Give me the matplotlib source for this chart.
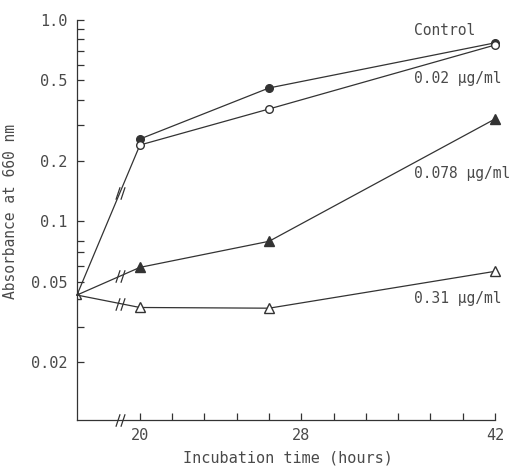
import numpy as np
import matplotlib
matplotlib.use("Agg")
import matplotlib.pyplot as plt
from matplotlib.path import Path

# data (hours, absorbance at 660 nm)
times = [0, 20, 28, 42]
control = [0.043, 0.256, 0.459, 0.769]
conc_002 = [0.043, 0.239, 0.361, 0.750]
conc_0078 = [0.043, 0.059, 0.0795, 0.322]
conc_031 = [0.043, 0.0373, 0.0370, 0.0564]

labels = ["Control", "0.02 \u00b5g/ml", "0.078 \u00b5g/ml", "0.31 \u00b5g/ml"]

x_left = 16.1     # where time 0 sits, left of the axis break
x_break = 18.76   # position of the // break marks

plt.rcParams['font.family'] = ['DejaVu Sans Mono']
txt = '#4a4a4a'
lc = '#333333'

def xpos(t):
    return [x_left if v == 0 else v for v in t]

slash = Path([(-2.2, -3), (-0.2, 3), (0.2, -3), (2.2, 3)],
             [Path.MOVETO, Path.LINETO, Path.MOVETO, Path.LINETO])

fig = plt.figure(figsize=(5.13, 4.73), dpi=100)
ax = fig.add_axes([0.150, 0.112, 0.815, 0.846])
xs = xpos(times)

# control starts at 20 h (shares the 0 h segment with 0.02)
ax.plot(xs[1:], control[1:], color=lc, lw=0.9, marker='o', ms=5.5,
        mfc=lc, mec=lc, clip_on=False, zorder=3)
ax.plot(xs, conc_002, color=lc, lw=0.9, marker='o', ms=5.5,
        mfc='white', mec=lc, markevery=[1, 2, 3], clip_on=False, zorder=3)
ax.plot(xs, conc_0078, color=lc, lw=0.9, marker='^', ms=6.5,
        mfc=lc, mec=lc, markevery=[1, 2, 3], clip_on=False, zorder=3)
ax.plot(xs, conc_031, color=lc, lw=0.9, marker='^', ms=6.5,
        mfc='white', mec=lc, markevery=[1, 2, 3], clip_on=False, zorder=3)
# shared starting point
ax.plot([x_left], [conc_031[0]], marker='^', ms=6, mfc='white', mec=lc,
        lw=0, zorder=2)

# break marks on the first segments
for s in [conc_002, conc_0078, conc_031]:
    f = (x_break - x_left) / (20 - x_left)
    yb = 10 ** (np.log10(s[0]) + f * (np.log10(s[1]) - np.log10(s[0])))
    ax.plot([x_break], [yb], marker=slash, ms=9, mew=0.9, color=lc,
            lw=0, zorder=4)
ax.plot([x_break], [0.0103], marker=slash, ms=9, mew=0.9, color=lc,
        lw=0, clip_on=False, zorder=4)

ax.set_yscale('log')
ax.set_ylim(0.0103, 1.0)
ax.set_xlim(x_left, 42)

ax.set_yticks([0.02, 0.05, 0.1, 0.2, 0.5, 1.0])
ax.set_yticklabels(['0.02', '0.05', '0.1', '0.2', '0.5', '1.0'])
ax.set_yticks([0.03, 0.06, 0.07, 0.08, 0.3, 0.4, 0.6, 0.7, 0.8, 0.9],
              minor=True)
ax.yaxis.set_minor_formatter(matplotlib.ticker.NullFormatter())
ax.set_xticks([20, 30, 42])
ax.set_xticklabels(['20', '28', '42'])
ax.set_xticks(np.arange(22, 42, 2), minor=True)

for sp in ['top', 'right']:
    ax.spines[sp].set_visible(False)
for sp in ['left', 'bottom']:
    ax.spines[sp].set_color(lc)
    ax.spines[sp].set_linewidth(0.9)

ax.tick_params(which='both', direction='in', length=5, width=0.9,
               color=lc, labelcolor=txt, labelsize=11)
ax.tick_params(axis='y', which='both', pad=7)
ax.tick_params(axis='x', which='both', pad=6)

ax.set_xlabel('Incubation time (hours)', fontsize=11, color=txt)
ax.xaxis.set_label_coords(0.505, -0.075)
ax.set_ylabel('Absorbance at 660\u2009nm', fontsize=10.5, color=txt)
ax.yaxis.set_label_coords(-0.14, 0.52)

lab_y = [0.89, 0.514, 0.173, 0.0414]
for lab, yv in zip(labels, lab_y):
    ax.text(37.0, yv, lab, fontsize=10.5, color=txt, ha='left', va='center')

fig.savefig('out.png', dpi=100)
